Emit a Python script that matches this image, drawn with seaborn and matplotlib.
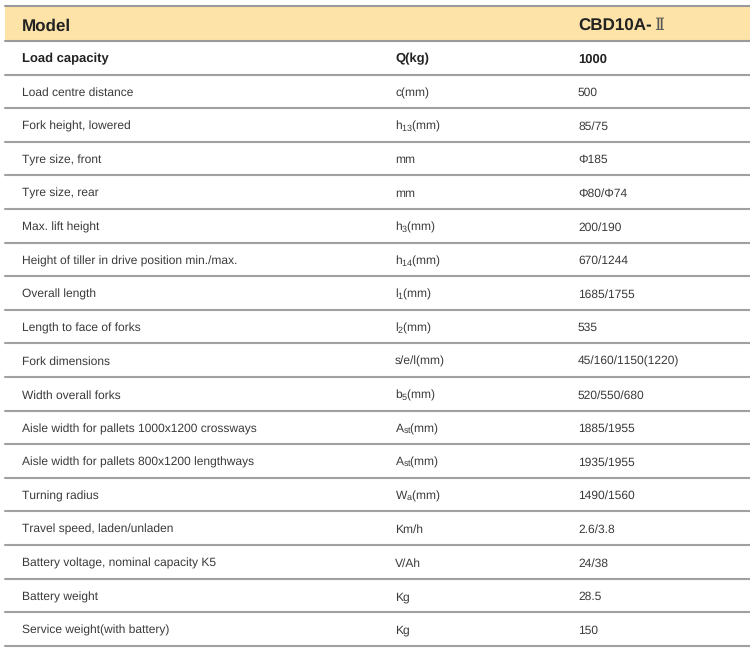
import matplotlib
matplotlib.use("Agg")
import matplotlib.pyplot as plt
import seaborn as sns

sns.set_style("white")
plt.rcParams['font.family'] = ['Liberation Sans', 'DejaVu Sans']
plt.rcParams['mathtext.fontset'] = 'custom'
plt.rcParams['mathtext.rm'] = 'Liberation Sans'
plt.rcParams['mathtext.it'] = 'Liberation Sans'
plt.rcParams['text.hinting'] = 'no_hinting'
plt.rcParams['text.hinting_factor'] = 1

header = ["Model", "CBD10A-", "\u2161"]

items = ["Load capacity", "Load centre distance", "Fork height, lowered",
         "Tyre size, front", "Tyre size, rear", "Max. lift height",
         "Height of tiller in drive position min./max.", "Overall length",
         "Length to face of forks", "Fork dimensions", "Width overall forks",
         "Aisle width for pallets 1000x1200 crossways",
         "Aisle width for pallets 800x1200 lengthways", "Turning radius",
         "Travel speed, laden/unladen", "Battery voltage, nominal capacity K5",
         "Battery weight", "Service weight(with battery)"]

units = ["Q(kg)", "c(mm)", r"$\mathrm{h}_{13}$(mm)", "mm", "mm",
         r"$\mathrm{h}_{3}$(mm)", r"$\mathrm{h}_{14}$(mm)", r"$\mathrm{l}_{1}$(mm)",
         r"$\mathrm{l}_{2}$(mm)", "s/e/l(mm)", r"$\mathrm{b}_{5}$(mm)",
         r"$\mathrm{A}_{\mathrm{st}}$(mm)", r"$\mathrm{A}_{\mathrm{st}}$(mm)",
         r"$\mathrm{W}_{\mathrm{a}}$(mm)", "Km/h", "V/Ah", "Kg", "Kg"]

values = ["1000", "500", "85/75", "\u03a6185", "\u03a680/\u03a674", "200/190",
          "670/1244", "1685/1755", "535", "45/160/1150(1220)", "520/550/680",
          "1885/1955", "1935/1955", "1490/1560", "2.6/3.8", "24/38", "28.5", "150"]

fig = plt.figure(figsize=(7.5, 6.49), dpi=100)
ax = fig.add_axes([0, 0, 1, 1])
ax.set_xlim(0, 750)
ax.set_ylim(649, 0)
ax.axis("off")

# header band
ax.axhspan(6, 40, xmin=5 / 750, xmax=1, color="#fde3a7", lw=0)
ax.axhline(5.5, xmin=5 / 750, xmax=1, color="#9a9a9a", lw=1.5)
ax.axhline(40.5, xmin=5 / 750, xmax=1, color="#9a9a9a", lw=1.5)
ax.text(22, 30.5, header[0], fontsize=12.5, fontweight="bold", color="#222222", va="baseline")
t = ax.text(578, 30.5, header[1], fontsize=12.5, fontweight="bold", color="#222222", va="baseline")
ax.annotate(header[2], xy=(1, 0), xycoords=t, xytext=(2, 0), textcoords="offset points",
            fontsize=12.5, family="DejaVu Serif", fontweight="light", color="#555555",
            va="bottom", ha="left")

step = 33.6
for i, (it, un, va) in enumerate(zip(items, units, values)):
    y = 62.5 + i * step
    bold = "bold" if i == 0 else "normal"
    col = "#222222" if i == 0 else "#3a3a3a"
    fs = 9.2 if i == 0 else 8.9
    ax.text(22, y, it, fontsize=fs, fontweight=bold, color=col, va="baseline")
    ax.text(395, y, un, fontsize=fs, fontweight=bold, color=col, va="baseline")
    ax.text(578, y, va, fontsize=fs, fontweight=bold, color=col, va="baseline")
    ax.axhline(41 + (i + 1) * step, xmin=5 / 750, xmax=1, color="#a0a0a0", lw=1.5)

fig.savefig("out.png", dpi=100)
